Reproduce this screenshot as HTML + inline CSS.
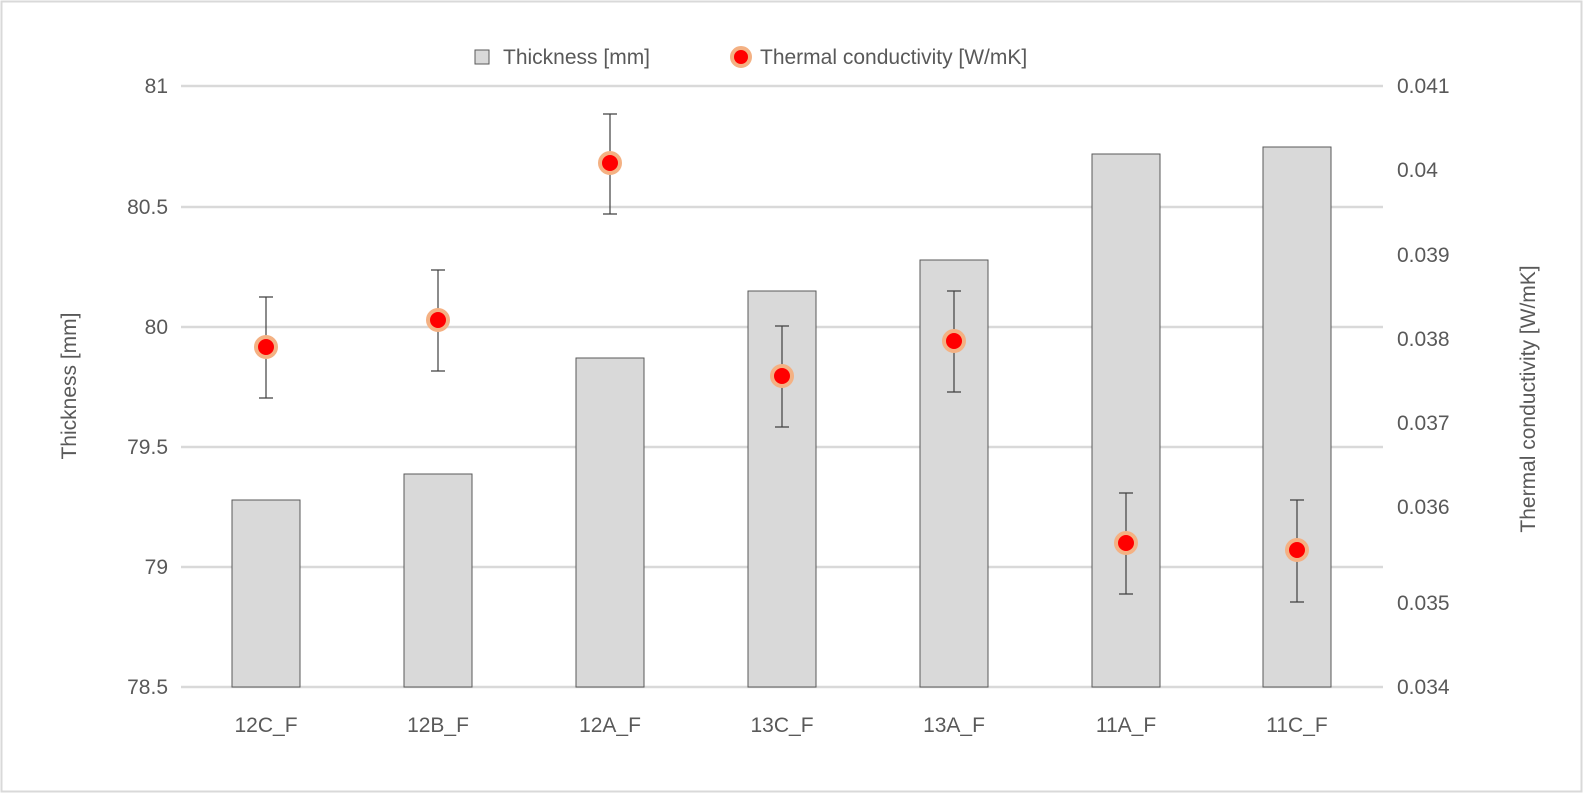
<!DOCTYPE html>
<html><head><meta charset="utf-8"><style>
body{margin:0;background:#fff;}
svg text{font-family:"Liberation Sans",sans-serif;fill:#595959;}
</style></head><body>
<svg width="1583" height="801" xmlns="http://www.w3.org/2000/svg">
<rect x="1.5" y="1.5" width="1580" height="790" fill="#fff" stroke="#d9d9d9" stroke-width="2"/>
<g stroke="#d9d9d9" stroke-width="2.5">
<line x1="181" y1="86" x2="1383" y2="86"/>
<line x1="181" y1="207" x2="1383" y2="207"/>
<line x1="181" y1="327" x2="1383" y2="327"/>
<line x1="181" y1="447" x2="1383" y2="447"/>
<line x1="181" y1="567" x2="1383" y2="567"/>
<line x1="181" y1="687" x2="1383" y2="687"/>
</g>
<g fill="#d9d9d9" stroke="#595959" stroke-width="1">
<rect x="232" y="500" width="68" height="187"/>
<rect x="404" y="474" width="68" height="213"/>
<rect x="576" y="358" width="68" height="329"/>
<rect x="748" y="291" width="68" height="396"/>
<rect x="920" y="260" width="68" height="427"/>
<rect x="1092" y="154" width="68" height="533"/>
<rect x="1263" y="147" width="68" height="540"/>
</g>
<g stroke="#404040" stroke-width="1.2">
<path d="M266 297V398M259 297H273M259 398H273"/>
<path d="M438 270V371M431 270H445M431 371H445"/>
<path d="M610 114V214M603 114H617M603 214H617"/>
<path d="M782 326V427M775 326H789M775 427H789"/>
<path d="M954 291V392M947 291H961M947 392H961"/>
<path d="M1126 493V594M1119 493H1133M1119 594H1133"/>
<path d="M1297 500V602M1290 500H1304M1290 602H1304"/>
</g>
<g fill="#ff0000" stroke="#f4b183" stroke-width="4">
<circle cx="266" cy="347" r="10"/>
<circle cx="438" cy="320" r="10"/>
<circle cx="610" cy="163" r="10"/>
<circle cx="782" cy="376" r="10"/>
<circle cx="954" cy="341" r="10"/>
<circle cx="1126" cy="543" r="10"/>
<circle cx="1297" cy="550" r="10"/>
</g>
<g font-size="21" text-anchor="end">
<text x="168" y="93">81</text>
<text x="168" y="214">80.5</text>
<text x="168" y="334">80</text>
<text x="168" y="454">79.5</text>
<text x="168" y="574">79</text>
<text x="168" y="694">78.5</text>
</g>
<g font-size="21" text-anchor="start">
<text x="1397" y="93">0.041</text>
<text x="1397" y="177">0.04</text>
<text x="1397" y="262">0.039</text>
<text x="1397" y="346">0.038</text>
<text x="1397" y="430">0.037</text>
<text x="1397" y="514">0.036</text>
<text x="1397" y="610">0.035</text>
<text x="1397" y="694">0.034</text>
</g>
<g font-size="21" text-anchor="middle">
<text x="266" y="732">12C_F</text>
<text x="438" y="732">12B_F</text>
<text x="610" y="732">12A_F</text>
<text x="782" y="732">13C_F</text>
<text x="954" y="732">13A_F</text>
<text x="1126" y="732">11A_F</text>
<text x="1297" y="732">11C_F</text>
</g>
<text font-size="21" text-anchor="middle" transform="translate(76,386) rotate(-90)">Thickness [mm]</text>
<text font-size="21" text-anchor="middle" transform="translate(1535,399) rotate(-90)">Thermal conductivity [W/mK]</text>
<rect x="475" y="50" width="14" height="14" fill="#d9d9d9" stroke="#595959" stroke-width="1"/>
<text x="503" y="64" font-size="21">Thickness [mm]</text>
<circle cx="741" cy="57" r="9" fill="#ff0000" stroke="#f4b183" stroke-width="4"/>
<text x="760" y="64" font-size="21">Thermal conductivity [W/mK]</text>
</svg>
</body></html>
